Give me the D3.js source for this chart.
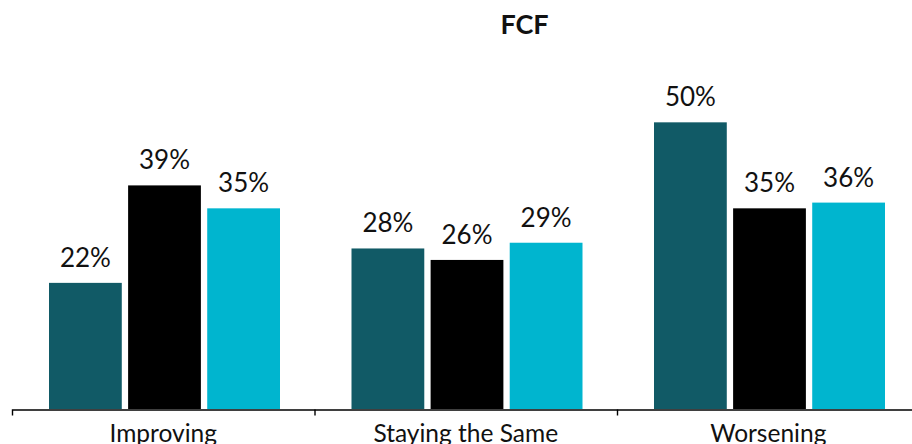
<!DOCTYPE html>
<html>
<head>
<meta charset="utf-8">
<script src="https://cdn.jsdelivr.net/npm/d3@7"></script>
<style>
  html, body { margin: 0; padding: 0; background: #fff; }
  svg { display: block; }
  text { font-family: Lato, "Open Sans", sans-serif; fill: #111; }
</style>
</head>
<body>
<svg id="chart" width="912" height="444"></svg>
<script>
// Free cash flow outlook, share of respondents per category
const title = "FCF";
const categories = ["Improving", "Staying the Same", "Worsening"];
const series = ["Series 1", "Series 2", "Series 3"];
const colors = ["#115a66", "#000000", "#00b5cf"];
const values = [
  [22, 39, 35],   // Improving
  [28, 26, 29],   // Staying the Same
  [50, 35, 36]    // Worsening
];

const svg = d3.select("#chart");
const baseY = 409, topY = 65;

// The plot runs slightly past the right edge of the view
const x0 = d3.scaleBand().domain(categories).range([12, 919.5]).padding(0);
const x1 = d3.scaleBand().domain(series).range([37, 268]).paddingInner(0.08);
const y = d3.scaleLinear().domain([0, 60]).range([baseY, topY]);
const color = d3.scaleOrdinal().domain(series).range(colors);

// Title
svg.append("text")
  .attr("x", 524.5).attr("y", 34)
  .attr("text-anchor", "middle")
  .attr("font-size", 27).attr("font-weight", "bold")
  .text(title);

// Bars and value labels
const groups = svg.append("g").selectAll("g")
  .data(categories.map((c, i) => ({ cat: c, vals: values[i] })))
  .join("g")
  .attr("transform", d => `translate(${x0(d.cat)},0)`);

groups.selectAll("rect")
  .data(d => d.vals.map((v, j) => ({ s: series[j], v })))
  .join("rect")
  .attr("x", d => x1(d.s))
  .attr("width", x1.bandwidth())
  .attr("y", d => y(d.v))
  .attr("height", d => y(0) - y(d.v))
  .attr("fill", d => color(d.s));

groups.selectAll("text.val")
  .data(d => d.vals.map((v, j) => ({ s: series[j], v })))
  .join("text")
  .attr("class", "val")
  .attr("x", d => x1(d.s) + x1.bandwidth() / 2)
  .attr("y", d => y(d.v) - 16)
  .attr("text-anchor", "middle")
  .attr("font-size", 26)
  .text(d => d.v + "%");

// Category axis with separators at band edges
const axis = svg.append("g")
  .attr("transform", `translate(0,${baseY + 0.5})`)
  .call(d3.axisBottom(x0).tickSizeInner(0).tickSizeOuter(6).tickPadding(15));
axis.select(".domain").attr("stroke", "#000").attr("stroke-width", 1.4);
axis.selectAll(".tick text")
  .attr("font-size", 24.5)
  .attr("font-family", "Lato, 'Open Sans', sans-serif")
  .attr("fill", "#111");
axis.selectAll(".sep")
  .data(categories.slice(1))
  .join("line")
  .attr("class", "sep")
  .attr("x1", d => x0(d) + 0.5).attr("x2", d => x0(d) + 0.5)
  .attr("y1", 0).attr("y2", 6)
  .attr("stroke", "#000").attr("stroke-width", 1.4);
</script>
</body>
</html>
